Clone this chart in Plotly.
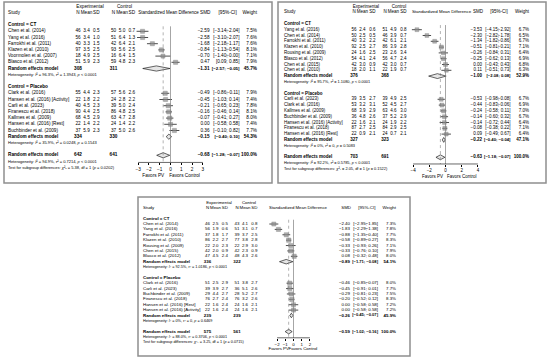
import plotly.graph_objects as go

W, H = 550, 359
FONT = "Liberation Sans, Arial, Helvetica, sans-serif"
MINUS = "\u2212"
GROUP_LABELS = ["Control = CT", "Control = Placebo"]

# ---------------- Panel A (top left) ----------------
A_study = ["Chen et al. (2014)", "Yang et al. (2016)", "Farrokhi et al. (2011)",
           "Klazen et al. (2010)", "Voormolen et al. (2007)", "Blasco et al. (2012)",
           "Clark et al. (2016)", "Hansen et al. (2016) [Activity]", "Carli et al. (2023)",
           "Firanescu et al. (2018)", "Kallmes et al. (2009)", "Hansen et al. (2016) [Rest]",
           "Buchbinder et al. (2009)"]
A_group = [0, 0, 0, 0, 0, 0, 1, 1, 1, 1, 1, 1, 1]
A_exp_n = [46, 56, 40, 97, 18, 51, 55, 22, 40, 90, 68, 22, 37]
A_exp_mean = [3.4, 3.4, 3.3, 3.5, 4.9, 5.9, 4.4, 1.8, 4.5, 4.4, 4.5, 1.4, 5.9]
A_exp_sd = [0.5, 1.0, 1.5, 2.5, 2.5, 2.3, 2.3, 2.2, 2.3, 2.5, 2.9, 2.2, 2.3]
A_ctl_n = [50, 51, 42, 93, 16, 59, 57, 24, 39, 86, 63, 24, 37]
A_ctl_mean = [5.0, 6.4, 6.4, 5.6, 6.4, 4.8, 5.6, 2.8, 5.0, 4.8, 4.7, 1.4, 5.0]
A_ctl_sd = [0.7, 1.3, 2.1, 2.5, 1.5, 2.3, 2.6, 2.2, 2.4, 2.5, 2.8, 2.2, 2.6]
A_smd = [-2.59, -2.58, -1.68, -0.84, -0.70, 0.47, -0.49, -0.45, -0.21, -0.16, -0.07, 0.00, 0.36]
A_lo = [-3.14, -3.10, -2.18, -1.13, -1.40, 0.09, -0.86, -1.03, -0.65, -0.46, -0.41, -0.58, -0.10]
A_hi = [-2.04, -2.07, -1.17, -0.54, -0.00, 0.85, -0.11, 0.14, 0.23, 0.14, 0.27, 0.58, 0.82]
A_weight = [7.5, 7.6, 7.6, 8.1, 7.1, 7.9, 7.9, 7.4, 7.8, 8.1, 8.0, 7.4, 7.7]
A_pool_exp_n = [308, 334, 642]
A_pool_ctl_n = [311, 330, 641]
A_pool_smd = [-1.31, -0.15, -0.68]
A_pool_lo = [-2.57, -0.40, -1.28]
A_pool_hi = [-0.05, 0.10, -0.07]
A_pool_weight = [45.7, 54.3, 100.0]
A_i2 = ["96.3%", "35.9%", "94.9%"]
A_tau2 = ["1.3943", "0.0248", "0.7214"]
A_p = ["< 0.0001", "= 0.1543", "< 0.0001"]
A_test = ["5.38", "1", "0.0202"]
A_ticks = [-3, -2, -1, 0, 1, 2, 3]

# ---------------- Panel B (top right) ----------------
B_study = ["Yang et al. (2016)", "Chen et al. (2014)", "Farrokhi et al. (2011)",
           "Klazen et al. (2010)", "Rousing et al. (2009)", "Blasco et al. (2012)",
           "Chen et al. (2015)", "Chen et al. (2010)",
           "Carli et al. (2023)", "Clark et al. (2016)", "Kallmes et al. (2009)",
           "Buchbinder et al. (2009)", "Hansen et al. (2016) [Activity]",
           "Firanescu et al. (2018)", "Hansen et al. (2016) [Rest]"]
B_group = [0, 0, 0, 0, 0, 0, 0, 0, 1, 1, 1, 1, 1, 1, 1]
B_exp_n = [56, 50, 40, 92, 24, 54, 42, 18, 39, 53, 68, 36, 22, 87, 22]
B_exp_mean = [2.4, 2.5, 3.2, 2.5, 1.6, 4.1, 3.0, 2.0, 3.5, 3.2, 3.9, 4.8, 1.6, 2.7, 0.9]
B_exp_sd = [0.6, 0.5, 2.2, 2.7, 2.5, 2.4, 0.9, 1.1, 2.7, 3.1, 2.9, 2.6, 2.1, 2.5, 2.1]
B_ctl_n = [51, 46, 42, 86, 23, 56, 42, 22, 39, 52, 63, 37, 24, 84, 24]
B_ctl_mean = [4.9, 3.9, 6.1, 3.9, 2.6, 4.7, 3.0, 1.9, 4.9, 4.5, 4.6, 5.2, 1.9, 2.9, 0.7]
B_ctl_sd = [0.8, 0.7, 2.1, 2.8, 3.4, 2.4, 0.7, 0.7, 2.5, 2.7, 3.0, 2.9, 2.2, 2.5, 2.1]
B_smd = [-3.53, -2.30, -1.34, -0.51, -0.26, -0.25, 0.00, 0.11, -0.53, -0.44, -0.24, -0.14, -0.14, -0.08, 0.09]
B_lo = [-4.15, -2.82, -1.82, -0.81, -0.84, -0.62, -0.43, -0.51, -0.98, -0.83, -0.58, -0.60, -0.72, -0.38, -0.49]
B_hi = [-2.92, -1.78, -0.86, -0.21, 0.31, 0.13, 0.43, 0.73, -0.08, -0.06, 0.11, 0.32, 0.44, 0.22, 0.67]
B_weight = [6.7, 6.5, 6.7, 7.1, 6.4, 6.9, 6.8, 6.3, 6.7, 6.9, 7.0, 6.7, 6.4, 7.1, 6.4]
B_pool_exp_n = [376, 327, 703]
B_pool_ctl_n = [368, 323, 691]
B_pool_smd = [-1.00, -0.22, -0.63]
B_pool_lo = [-2.08, -0.40, -1.18]
B_pool_hi = [0.08, -0.04, -0.07]
B_pool_weight = [52.9, 47.1, 100.0]
B_i2 = ["95.7%", "0%", "92.2%"]
B_tau2 = ["1.1080", "0", "0.5785"]
B_p = ["< 0.0001", "= 0.5083", "< 0.0001"]
B_test = ["2.05", "1", "0.1522"]
B_ticks = [-4, -2, 0, 2, 4]

# ---------------- Panel C (bottom) ----------------
C_study = ["Chen et al. (2014)", "Yang et al. (2016)", "Farrokhi et al. (2011)",
           "Klazen et al. (2010)", "Rousing et al. (2009)", "Chen et al. (2015)",
           "Blasco et al. (2012)",
           "Clark et al. (2016)", "Carli et al. (2023)", "Buchbinder et al. (2009)",
           "Firanescu et al. (2018)", "Hansen et al. (2016) [Rest]",
           "Hansen et al. (2016) [Activity]"]
C_group = [0, 0, 0, 0, 0, 0, 0, 1, 1, 1, 1, 1, 1]
C_exp_n = [46, 56, 37, 86, 22, 42, 47, 51, 39, 29, 76, 22, 22]
C_exp_mean = [2.5, 1.9, 1.8, 2.2, 2.0, 2.0, 4.5, 2.5, 3.9, 4.4, 2.7, 1.6, 1.6]
C_exp_sd = [0.5, 0.6, 1.7, 2.7, 2.3, 0.9, 2.4, 2.9, 2.7, 2.7, 2.4, 2.4, 2.4]
C_ctl_n = [43, 51, 39, 77, 22, 42, 48, 51, 36, 28, 76, 24, 24]
C_ctl_mean = [4.1, 3.1, 3.7, 3.8, 2.9, 2.3, 4.3, 3.8, 5.1, 5.2, 3.2, 1.6, 1.6]
C_ctl_sd = [0.8, 0.7, 2.5, 2.8, 3.0, 0.9, 2.6, 2.7, 2.6, 2.7, 2.6, 2.1, 2.1]
C_smd = [-2.40, -1.83, -0.88, -0.58, -0.33, -0.33, 0.08, -0.46, -0.45, -0.29, -0.20, 0.00, 0.00]
C_lo = [-2.95, -2.29, -1.35, -0.89, -0.93, -0.76, -0.32, -0.85, -0.91, -0.81, -0.52, -0.58, -0.58]
C_hi = [-1.85, -1.38, -0.40, -0.27, 0.26, 0.10, 0.48, -0.07, 0.01, 0.23, 0.12, 0.58, 0.58]
C_weight = [7.3, 7.8, 7.7, 8.3, 7.1, 7.9, 8.0, 8.0, 7.7, 7.5, 8.3, 7.2, 7.2]
C_pool_exp_n = [336, 239, 575]
C_pool_ctl_n = [322, 239, 561]
C_pool_smd = [-0.89, -0.26, -0.59]
C_pool_lo = [-1.71, -0.45, -1.02]
C_pool_hi = [-0.08, -0.07, -0.16]
C_pool_weight = [54.1, 45.9, 100.0]
C_i2 = ["92.5%", "0%", "88.0%"]
C_tau2 = ["1.0186", "0", "0.3706"]
C_p = ["< 0.0001", "= 0.6469", "< 0.0001"]
C_test = ["3.25", "1", "0.0715"]
C_ticks = [-2, -1, 0, 1, 2]


def pack(prefix):
    g = globals()
    keys = ["study", "group", "exp_n", "exp_mean", "exp_sd", "ctl_n", "ctl_mean", "ctl_sd",
            "smd", "lo", "hi", "weight", "pool_exp_n", "pool_ctl_n", "pool_smd", "pool_lo",
            "pool_hi", "pool_weight", "i2", "tau2", "p", "test", "ticks"]
    return {k: g[f"{prefix}_{k}"] for k in keys}


# layout (pixel positions) of each panel; N/Mean/SD columns are centred
PA = dict(box=(4, 2, 272, 183), row0=6.5, rh=6.2, fs=4.7, fsh=4.0, shf=4.5,
          study=8, en=78, em=86.5, es=96.3, cn=113.5, cm=122, cs=131.8, eh=90, ch=124.5,
          zero=170.5, unit=10.8, half=4.5, sh=168.5, smd=209.5, ci=239.5, w=257,
          favl=-1.6, favr=1.3)
PB = dict(box=(278, 2, 546, 183), row0=6.5, rh=5.8, fs=4.5, fsh=3.9, shf=4.4,
          study=284, en=354, em=362.5, es=372.5, cn=385, cm=393.5, cs=403.3, eh=366, ch=399,
          zero=445.5, unit=8.1, half=5.5, sh=441.5, smd=482, ci=510.5, w=529,
          favl=-1.6, favr=2.0)
PC = dict(box=(138, 197, 410, 356), row0=202.5, rh=5.38, fs=4.4, fsh=3.8, shf=4.3,
          study=143, en=207.5, em=215.5, es=224.9, cn=237, cm=245, cs=254.4, eh=219, ch=249,
          zero=293.5, unit=8.2, half=3.5, sh=298, smd=350, ci=378, w=396,
          favl=-1.8, favr=1.15)


def f2(v):
    return f"{v:.2f}".replace("-", MINUS)


def f1(v):
    return f"{v:.1f}".replace("-", MINUS)


def b(s):
    return f"<b>{s}</b>"


fig = go.Figure()
layout_axes = {}
shapes = []


def add_panel(k, P, D):
    xt, xf = 2 * k - 1, 2 * k
    tx = "x" if xt == 1 else f"x{xt}"
    fx = f"x{xf}"
    yy = "y" if k == 1 else f"y{k}"
    L, T, R, B = P["box"]
    r0, rh, fs = P["row0"], P["rh"], P["fs"]

    # row assignment
    study_rows, pool_rows, het_rows, group_rows = [], [], [], []
    r = 3
    for g in range(2):
        group_rows.append(r)
        r += 1
        for gg in D["group"]:
            if gg == g:
                study_rows.append(r)
                r += 1
        pool_rows.append(r)
        het_rows.append(r + 1)
        r += 3
    pool_rows.append(r)
    het_rows.append(r + 1)
    test_row = r + 2
    axis_row = r + 1.15
    fav_row = r + 3.3

    # axes: table axis in pixels, forest axis in SMD units, shared row axis
    layout_axes[f"xaxis{'' if xt == 1 else xt}"] = dict(
        domain=[L / W, R / W], range=[L, R], visible=False, anchor=yy, fixedrange=True)
    z, u, hf = P["zero"], P["unit"], P["half"]
    axis_px = r0 + axis_row * rh
    layout_axes[f"xaxis{xf}"] = dict(
        domain=[(z - hf * u) / W, (z + hf * u) / W], range=[-hf, hf], anchor="free",
        position=1 - axis_px / H, tickvals=D["ticks"], ticks="outside", ticklen=2,
        tickwidth=0.6, tickcolor="black", showline=False, showgrid=False, zeroline=False,
        tickfont=dict(family=FONT, size=fs, color="black"), fixedrange=True)
    layout_axes[f"yaxis{'' if k == 1 else k}"] = dict(
        domain=[1 - B / H, 1 - T / H], range=[(B - r0) / rh, (T - r0) / rh],
        autorange=False, visible=False, fixedrange=True, anchor=tx)

    items = []

    def add(x, row, s, a, size=None):
        items.append((x, row, s, a, size or fs))

    cim = P["ci"] - 2.53 * fs          # right edge of the "[lower;" part
    add(P["eh"], 0, "Experimental", "C")
    add(P["ch"], 0, "Control", "C")
    add(P["study"], 1, "Study", "L")
    for key, lab in (("en", "N"), ("em", "Mean"), ("es", "SD"),
                     ("cn", "N"), ("cm", "Mean"), ("cs", "SD")):
        add(P[key], 1, lab, "C")
    add(P["sh"], 1, "Standardized Mean Difference", "C", P["shf"])
    add(P["smd"] + 1, 1, "SMD", "R")
    add(cim, 1, "[95%-CI]", "C")
    add(P["w"], 1, "Weight", "R")

    for g, row in enumerate(group_rows):
        add(P["study"], row, b(GROUP_LABELS[g]), "L")
    for i, row in enumerate(study_rows):
        add(P["study"], row, D["study"][i], "L")
        add(P["en"], row, str(D["exp_n"][i]), "C")
        add(P["em"], row, f1(D["exp_mean"][i]), "C")
        add(P["es"], row, f1(D["exp_sd"][i]), "C")
        add(P["cn"], row, str(D["ctl_n"][i]), "C")
        add(P["cm"], row, f1(D["ctl_mean"][i]), "C")
        add(P["cs"], row, f1(D["ctl_sd"][i]), "C")
        add(P["smd"], row, f2(D["smd"][i]), "R")
        add(cim, row, f"[{f2(D['lo'][i])};", "R")
        add(P["ci"], row, f"{f2(D['hi'][i])}]", "R")
        add(P["w"], row, f"{D['weight'][i]:.1f}%", "R")
    for j, row in enumerate(pool_rows):
        add(P["study"], row, b("Random effects model"), "L")
        add(P["en"], row, b(D["pool_exp_n"][j]), "C")
        add(P["cn"], row, b(D["pool_ctl_n"][j]), "C")
        add(P["smd"], row, b(f2(D["pool_smd"][j])), "R")
        add(P["ci"], row, b(f"[{f2(D['pool_lo'][j])}; {f2(D['pool_hi'][j])}]"), "R", fs * 0.93)
        add(P["w"], row, b(f"{D['pool_weight'][j]:.1f}%"), "R")
        het = (f"Heterogeneity: <i>I</i>² = {D['i2'][j]}, <i>τ</i>² = {D['tau2'][j]}, "
               f"<i>p</i> {D['p'][j]}")
        add(P["study"], het_rows[j], het, "L", P["fsh"])
    chi, df, pt = D["test"]
    add(P["study"], test_row,
        f"Test for subgroup differences: <i>χ</i>²₁ = {chi}, df = {df} (<i>p</i> = {pt})",
        "L", P["fsh"])
    add(z + P["favl"] * u, fav_row, "Favors PV", "C")
    add(z + P["favr"] * u, fav_row, "Favors Control", "C")

    posmap = {"L": "middle right", "R": "middle left", "C": "middle center"}
    for a in ("L", "R", "C"):
        sel = [it for it in items if it[3] == a]
        fig.add_trace(go.Scatter(
            x=[it[0] for it in sel], y=[it[1] for it in sel], text=[it[2] for it in sel],
            mode="text", textposition=posmap[a], cliponaxis=False,
            textfont=dict(family=FONT, size=[it[4] for it in sel], color="black"),
            xaxis=tx, yaxis=yy, hoverinfo="skip", showlegend=False))

    # reference lines and axis line
    top_row = group_rows[0] + 0.2
    shapes.append(dict(type="line", xref=fx, yref=yy, x0=0, x1=0, y0=top_row, y1=axis_row,
                       line=dict(color="#7f7f7f", width=0.7)))
    shapes.append(dict(type="line", xref=fx, yref=yy, x0=D["pool_smd"][2], x1=D["pool_smd"][2],
                       y0=top_row, y1=axis_row, line=dict(color="#7f7f7f", width=0.6, dash="dot")))
    shapes.append(dict(type="line", xref=fx, yref=yy, x0=min(D["ticks"]), x1=max(D["ticks"]),
                       y0=axis_row, y1=axis_row, line=dict(color="black", width=0.6)))

    # study squares with confidence intervals
    fig.add_trace(go.Scatter(
        x=D["smd"], y=study_rows, mode="markers", xaxis=fx, yaxis=yy, cliponaxis=False,
        marker=dict(symbol="square", size=[1.5 * w ** 0.5 for w in D["weight"]],
                    color="#8c8c8c", line=dict(color="#555555", width=0.4)),
        error_x=dict(type="data", symmetric=False,
                     array=[h - s for h, s in zip(D["hi"], D["smd"])],
                     arrayminus=[s - l for s, l in zip(D["smd"], D["lo"])],
                     width=0, thickness=0.7, color="black"),
        hoverinfo="skip", showlegend=False))

    # pooled diamonds
    dh = 0.42
    for j, row in enumerate(pool_rows):
        lo, s, hi = D["pool_lo"][j], D["pool_smd"][j], D["pool_hi"][j]
        fig.add_trace(go.Scatter(
            x=[lo, s, hi, s, lo], y=[row, row - dh, row, row + dh, row], mode="lines",
            fill="toself", fillcolor="#e6e6e6", line=dict(color="black", width=0.6),
            xaxis=fx, yaxis=yy, hoverinfo="skip", showlegend=False))

    # panel frame
    shapes.append(dict(type="rect", xref="paper", yref="paper", x0=L / W, x1=R / W,
                       y0=1 - B / H, y1=1 - T / H, line=dict(color="#8f8f8f", width=1.5)))


add_panel(1, PA, pack("A"))
add_panel(2, PB, pack("B"))
add_panel(3, PC, pack("C"))

fig.update_layout(
    width=W, height=H, margin=dict(l=0, r=0, t=0, b=0),
    paper_bgcolor="white", plot_bgcolor="rgba(0,0,0,0)", showlegend=False,
    font=dict(family=FONT, size=5, color="black"), shapes=shapes, **layout_axes)

fig.write_html("out.html", config={"displayModeBar": False},
               post_script="document.body.style.margin='0px';")
